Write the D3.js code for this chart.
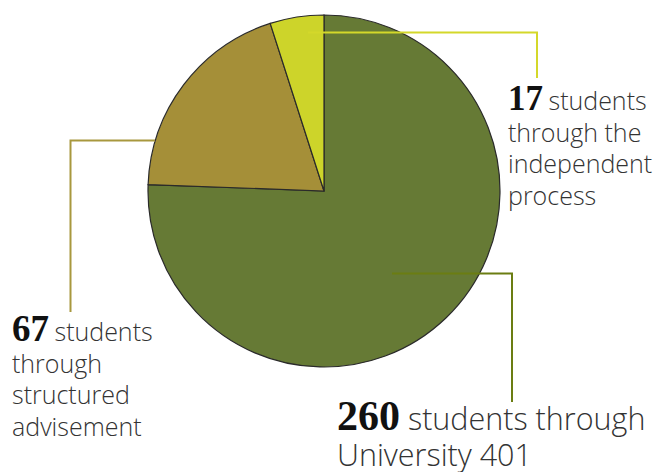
<!DOCTYPE html>
<html>
<head>
<meta charset="utf-8">
<script src="https://cdn.jsdelivr.net/npm/d3@7"></script>
<style>
  html, body { margin: 0; padding: 0; background: #fff; }
  svg { display: block; }
  .num { font-family: "Liberation Serif", "DejaVu Serif", serif; font-weight: 700; fill: #111; }
  .txt { font-family: "Open Sans", "Lato", sans-serif; font-weight: 300; fill: #333; }
</style>
</head>
<body>
<svg id="chart" width="658" height="472"></svg>
<script>
// Data
const categories = ["University 401", "Structured advisement", "Independent process"];
const values = [260, 67, 17];
const colors = ["#667a35", "#a58f38", "#cdd42a"];
const lineColors = ["#6b7d12", "#a8983e", "#d4d82a"];
const numberLabels = ["260", "67", "17"];
const textLines = [
  [" students through", "University 401"],
  [" students", "through", "structured", "advisement"],
  [" students", "through the", "independent", "process"]
];

const svg = d3.select("#chart");
const cx = 324, cy = 191, R = 176;

const pie = d3.pie().sort(null).value(d => d)(values);
const arc = d3.arc().innerRadius(0).outerRadius(R);

const g = svg.append("g").attr("transform", `translate(${cx},${cy})`);
g.selectAll("path.slice").data(pie).enter().append("path")
  .attr("class", "slice")
  .attr("d", arc)
  .attr("fill", (d, i) => colors[i])
  .attr("stroke", "#2a2a2a")
  .attr("stroke-width", 1.2);

// leader lines: anchor inside slice, elbow, end near label
const leaders = [
  { pts: [[392, 273.5], [512, 273.5], [512, 402]] },
  { pts: [[155, 140.5], [70.5, 140.5], [70.5, 312]] },
  { pts: [[308, 32.5], [537, 32.5], [537, 78]] }
];
const line = d3.line();
svg.selectAll("path.leader").data(leaders).enter().append("path")
  .attr("class", "leader")
  .attr("d", d => line(d.pts))
  .attr("fill", "none")
  .attr("stroke", (d, i) => lineColors[i])
  .attr("stroke-width", 2);

const labelPos = [
  { x: 337, y: 430, lh: 36, numSize: 42, txtSize: 30.5, gap: 6 },
  { x: 12, y: 341, lh: 31.5, numSize: 37, txtSize: 25, gap: 5 },
  { x: 508, y: 110, lh: 31.5, numSize: 35, txtSize: 25, gap: 5 }
];

labelPos.forEach((p, i) => {
  const t = svg.append("text").attr("x", p.x).attr("y", p.y);
  t.append("tspan").attr("class", "num").style("font-size", p.numSize + "px").text(numberLabels[i]);
  t.append("tspan").attr("class", "txt").attr("dx", p.gap - 6).style("font-size", p.txtSize + "px").text(textLines[i][0]);
  textLines[i].slice(1).forEach((ln, j) => {
    svg.append("text").attr("class", "txt")
      .attr("x", p.x).attr("y", p.y + p.lh * (j + 1))
      .style("font-size", p.txtSize + "px")
      .text(ln);
  });
});
</script>
</body>
</html>
